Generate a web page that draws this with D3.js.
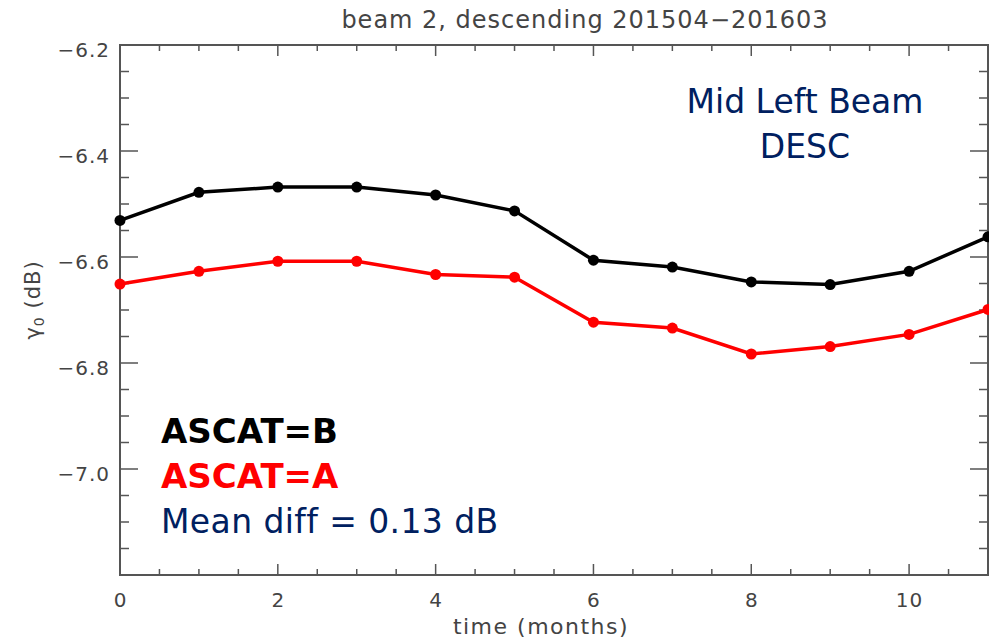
<!DOCTYPE html>
<html>
<head>
<meta charset="utf-8">
<script src="https://cdn.jsdelivr.net/npm/d3@7"></script>
<style>
  body { margin: 0; background: #fff; }
  svg { display: block; }
  .tick text { font-family: "DejaVu Sans", sans-serif; font-size: 20px; fill: #444; letter-spacing: 1px; }
</style>
</head>
<body>
<svg id="chart" width="989" height="639"></svg>
<script>
// データ
var months = [0, 1, 2, 3, 4, 5, 6, 7, 8, 9, 10, 11];
var ascatB = [-6.531, -6.478, -6.468, -6.468, -6.483, -6.513, -6.606, -6.619, -6.647, -6.652, -6.627, -6.562];
var ascatA = [-6.651, -6.627, -6.608, -6.608, -6.633, -6.638, -6.723, -6.734, -6.783, -6.769, -6.746, -6.699];
var xTicks = [0, 2, 4, 6, 8, 10];
var yTicks = [-7.0, -6.8, -6.6, -6.4, -6.2];

var svg = d3.select("#chart");
var pLeft = 120, pRight = 988, pTop = 45, pBottom = 575;
var axisColor = "#555";

var x = d3.scaleLinear().domain([0, 11]).range([pLeft, pRight]);
var y = d3.scaleLinear().domain([-7.2, -6.2]).range([pBottom, pTop]);

// 目盛り（IDL風：内向き）
var xMinor = d3.range(0, 11.01, 0.5);
var yMinor = d3.range(-7.2, -6.19, 0.05);

var tg = svg.append("g");
xMinor.forEach(function(v){
	var major = Math.abs(v % 2) < 1e-6;
	var len = major ? 11 : 6;
	tg.append("line").attr("x1", x(v)).attr("x2", x(v)).attr("y1", pBottom).attr("y2", pBottom - len)
		.attr("stroke", axisColor).attr("stroke-width", 1.5);
	tg.append("line").attr("x1", x(v)).attr("x2", x(v)).attr("y1", pTop).attr("y2", pTop + len)
		.attr("stroke", axisColor).attr("stroke-width", 1.5);
});
yMinor.forEach(function(v){
	var k = Math.round((v + 7.2) / 0.05);
	var major = k % 4 === 0;
	var len = major ? 18 : 9;
	tg.append("line").attr("x1", pLeft).attr("x2", pLeft + len).attr("y1", y(v)).attr("y2", y(v))
		.attr("stroke", axisColor).attr("stroke-width", 1.5);
	tg.append("line").attr("x1", pRight).attr("x2", pRight - len).attr("y1", y(v)).attr("y2", y(v))
		.attr("stroke", axisColor).attr("stroke-width", 1.5);
});

// 枠
svg.append("rect").attr("x", pLeft).attr("y", pTop).attr("width", pRight - pLeft).attr("height", pBottom - pTop)
	.attr("fill", "none").attr("stroke", axisColor).attr("stroke-width", 2);

// 軸ラベル
var xAxis = svg.append("g").attr("transform", "translate(0," + pBottom + ")")
	.call(d3.axisBottom(x).tickValues(xTicks).tickSize(0).tickPadding(18).tickFormat(d3.format("d")));
xAxis.select(".domain").remove();

var yAxis = svg.append("g").attr("transform", "translate(" + pLeft + ",0)")
	.call(d3.axisLeft(y).tickValues(yTicks).tickSize(0).tickPadding(10)
		.tickFormat(function(d){ return d3.format(".1f")(d).replace("-", "\u2212"); }));
yAxis.select(".domain").remove();
yAxis.selectAll("text").attr("dy", "0.55em");

// 系列
var line = d3.line().x(function(d, i){ return x(months[i]); }).y(function(d){ return y(d); });
function drawSeries(data, color) {
	svg.append("path").datum(data).attr("d", line)
		.attr("fill", "none").attr("stroke", color).attr("stroke-width", 3.5);
	svg.selectAll(null).data(data).enter().append("circle")
		.attr("cx", function(d, i){ return x(months[i]); })
		.attr("cy", function(d){ return y(d); })
		.attr("r", 5.5).attr("fill", color);
}
drawSeries(ascatB, "#000");
drawSeries(ascatA, "#ff0000");

// タイトル
var lbl = "DejaVu Sans, sans-serif";
svg.append("text").attr("x", 585).attr("y", 28).attr("text-anchor", "middle")
	.style("font-family", lbl).style("font-size", "24px").style("letter-spacing", "1px").attr("fill", "#444")
	.text("beam 2, descending 201504\u2212201603");
svg.append("text").attr("x", 541).attr("y", 634).attr("text-anchor", "middle")
	.style("font-family", lbl).style("font-size", "22px").style("letter-spacing", "1.5px").attr("fill", "#444")
	.text("time (months)");
svg.append("text").attr("transform", "translate(40,300) rotate(-90)").attr("text-anchor", "middle")
	.style("font-family", lbl).style("font-size", "21px").style("letter-spacing", "1px").attr("fill", "#444")
	.html("\u03B3<tspan font-size='14px' dy='4'>0</tspan><tspan dy='-4'> (dB)</tspan>");

// 注記
var navy = "#002060";
svg.append("text").attr("x", 805).attr("y", 113).attr("text-anchor", "middle")
	.style("font-family", lbl).style("font-size", "33px").attr("fill", navy)
	.text("Mid Left Beam");
svg.append("text").attr("x", 805).attr("y", 158).attr("text-anchor", "middle")
	.style("font-family", lbl).style("font-size", "33px").attr("fill", navy)
	.text("DESC");
svg.append("text").attr("x", 161).attr("y", 443)
	.style("font-family", lbl).style("font-size", "34px").style("font-weight", "bold").attr("fill", "#000")
	.text("ASCAT=B");
svg.append("text").attr("x", 161).attr("y", 488)
	.style("font-family", lbl).style("font-size", "34px").style("font-weight", "bold").attr("fill", "#ff0000")
	.text("ASCAT=A");
svg.append("text").attr("x", 161).attr("y", 533)
	.style("font-family", lbl).style("font-size", "33px").style("letter-spacing", "0.4px").attr("fill", navy)
	.text("Mean diff = 0.13 dB");
</script>
</body>
</html>
